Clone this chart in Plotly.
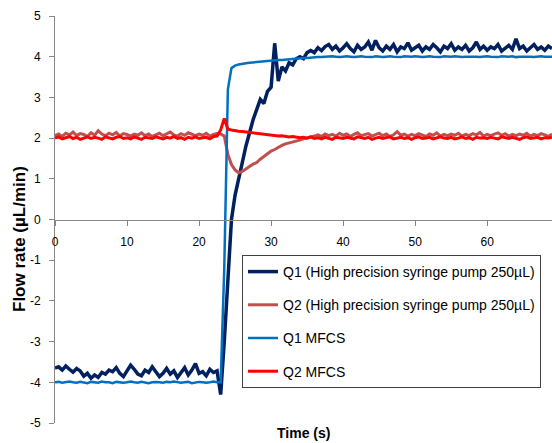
import plotly.graph_objects as go

# Time axis (s), 0.5 s sampling
time_s = [
    0.0, 0.5, 1.0, 1.5, 2.0, 2.5, 3.0, 3.5, 4.0, 4.5,
    5.0, 5.5, 6.0, 6.5, 7.0, 7.5, 8.0, 8.5, 9.0, 9.5,
    10.0, 10.5, 11.0, 11.5, 12.0, 12.5, 13.0, 13.5, 14.0, 14.5,
    15.0, 15.5, 16.0, 16.5, 17.0, 17.5, 18.0, 18.5, 19.0, 19.5,
    20.0, 20.5, 21.0, 21.5, 22.0, 22.5, 23.0, 23.5, 24.0, 24.5,
    25.0, 25.5, 26.0, 26.5, 27.0, 27.5, 28.0, 28.5, 29.0, 29.5,
    30.0, 30.5, 31.0, 31.5, 32.0, 32.5, 33.0, 33.5, 34.0, 34.5,
    35.0, 35.5, 36.0, 36.5, 37.0, 37.5, 38.0, 38.5, 39.0, 39.5,
    40.0, 40.5, 41.0, 41.5, 42.0, 42.5, 43.0, 43.5, 44.0, 44.5,
    45.0, 45.5, 46.0, 46.5, 47.0, 47.5, 48.0, 48.5, 49.0, 49.5,
    50.0, 50.5, 51.0, 51.5, 52.0, 52.5, 53.0, 53.5, 54.0, 54.5,
    55.0, 55.5, 56.0, 56.5, 57.0, 57.5, 58.0, 58.5, 59.0, 59.5,
    60.0, 60.5, 61.0, 61.5, 62.0, 62.5, 63.0, 63.5, 64.0, 64.5,
    65.0, 65.5, 66.0, 66.5, 67.0, 67.5, 68.0, 68.5, 69.0,
]

q1_pump = [
    -3.65, -3.62, -3.70, -3.60, -3.68, -3.75, -3.66, -3.72, -3.85, -3.78,
    -3.90, -3.82, -3.88, -3.76, -3.80, -3.70, -3.74, -3.64, -3.78, -3.86,
    -3.72, -3.58, -3.68, -3.80, -3.84, -3.70, -3.76, -3.62, -3.74, -3.86,
    -3.78, -3.66, -3.80, -3.72, -3.88, -3.76, -3.64, -3.82, -3.70, -3.54,
    -3.78, -3.74, -3.84, -3.68, -3.76, -3.72, -4.30, -3.00, -1.50, 0.00,
    0.60, 1.05, 1.40, 1.80, 2.15, 2.45, 2.70, 2.95, 2.85, 3.15,
    3.25, 4.33, 3.40, 3.75, 3.65, 3.85, 3.80, 3.95, 4.00, 3.95,
    4.10, 4.15, 4.10, 4.22, 4.15, 4.25, 4.30, 4.18, 4.26, 4.14,
    4.22, 4.32, 4.20, 4.12, 4.28, 4.18, 4.24, 4.36, 4.16, 4.40,
    4.22, 4.14, 4.26, 4.18, 4.30, 4.12, 4.24, 4.20, 4.34, 4.16,
    4.22, 4.28, 4.14, 4.24, 4.18, 4.30, 4.22, 4.12, 4.26, 4.20,
    4.32, 4.16, 4.24, 4.18, 4.28, 4.14, 4.22, 4.36, 4.18, 4.26,
    4.16, 4.24, 4.20, 4.30, 4.14, 4.22, 4.28, 4.18, 4.44, 4.20,
    4.26, 4.14, 4.22, 4.30, 4.18, 4.24, 4.16, 4.26, 4.20,
]

q2_pump = [
    2.06, 2.10, 2.04, 2.12, 2.08, 2.15, 2.06, 2.11, 2.09, 2.04,
    2.13, 2.07, 2.18, 2.10, 2.06, 2.12, 2.08, 2.14, 2.05, 2.11,
    2.09, 2.05, 2.10, 2.07, 2.13, 2.06, 2.10, 2.04, 2.08, 2.12,
    2.06, 2.10, 2.15, 2.08, 2.05, 2.11, 2.07, 2.13, 2.09, 2.06,
    2.10, 2.07, 2.12, 2.05, 2.09, 2.11, 2.10, 2.05, 1.60, 1.35,
    1.22, 1.15, 1.18, 1.25, 1.30, 1.36, 1.40, 1.48, 1.55, 1.62,
    1.68, 1.72, 1.78, 1.82, 1.86, 1.88, 1.90, 1.93, 1.95, 1.98,
    2.00, 2.03, 2.05, 2.08, 2.04, 2.10, 2.06, 2.09, 2.05, 2.12,
    2.07, 2.10, 2.04, 2.09, 2.13, 2.06, 2.08, 2.11, 2.05, 2.09,
    2.12, 2.06, 2.10, 2.04, 2.08, 2.16, 2.07, 2.10, 2.05, 2.09,
    2.06, 2.11, 2.08, 2.04, 2.10, 2.07, 2.13, 2.05, 2.09, 2.06,
    2.10, 2.07, 2.12, 2.05, 2.09, 2.06, 2.11, 2.08, 2.14, 2.05,
    2.09, 2.06, 2.10, 2.13, 2.07, 2.11, 2.05, 2.09, 2.06, 2.10,
    2.07, 2.12, 2.05, 2.09, 2.06, 2.11, 2.08, 2.04, 2.10,
]

q1_mfcs = [
    -4.00, -3.99, -4.01, -4.00, -3.98, -4.00, -4.01, -3.99, -4.00, -4.02,
    -3.99, -4.00, -4.01, -3.98, -4.00, -4.00, -4.02, -3.99, -4.00, -4.01,
    -4.00, -3.98, -4.00, -4.01, -3.99, -4.00, -4.02, -4.00, -3.99, -4.00,
    -4.01, -3.99, -4.00, -3.98, -4.00, -4.01, -4.00, -3.99, -4.02, -4.00,
    -3.99, -4.00, -4.01, -4.00, -3.98, -4.00, -4.00, -1.20, 3.20, 3.72,
    3.78, 3.81, 3.83, 3.84, 3.85, 3.86, 3.87, 3.88, 3.88, 3.89,
    3.90, 3.91, 3.92, 3.92, 3.93, 3.94, 3.95, 3.95, 3.96, 3.97,
    3.97, 3.98, 3.98, 3.99, 3.99, 4.00, 4.00, 4.01, 4.00, 3.99,
    4.00, 4.01, 4.00, 3.99, 4.00, 4.01, 4.00, 4.00, 3.99, 4.01,
    4.00, 3.99, 4.00, 4.01, 4.00, 4.00, 3.99, 4.01, 4.00, 4.00,
    4.01, 4.00, 3.99, 4.00, 4.01, 4.00, 4.00, 3.99, 4.01, 4.00,
    4.00, 4.01, 4.00, 3.99, 4.00, 4.00, 4.01, 4.00, 3.99, 4.00,
    4.01, 4.00, 4.00, 3.99, 4.01, 4.00, 4.00, 4.01, 3.99, 4.00,
    4.00, 4.01, 4.00, 3.99, 4.00, 4.01, 4.00, 4.00, 4.00,
]

q2_mfcs = [
    2.00, 2.03, 1.98, 2.01, 2.04, 1.99, 2.02, 1.97, 2.01, 2.03,
    1.99, 2.02, 2.00, 1.97, 2.03, 2.01, 1.98, 2.02, 2.04, 1.99,
    2.01, 1.98, 2.03, 2.00, 1.97, 2.02, 2.01, 1.99, 2.03, 2.00,
    1.98, 2.02, 2.00, 2.04, 1.99, 2.01, 1.97, 2.02, 2.00, 2.03,
    1.99, 2.01, 2.02, 1.98, 2.04, 2.05, 2.20, 2.48, 2.22, 2.20,
    2.18, 2.17, 2.16, 2.15, 2.14, 2.12, 2.12, 2.10, 2.09, 2.08,
    2.07, 2.07, 2.05, 2.06, 2.04, 2.03, 2.04, 2.02, 2.01, 2.02,
    2.00, 2.03, 1.99, 2.01, 1.98, 2.02, 2.00, 1.97, 2.02, 2.01,
    1.99, 2.02, 2.00, 1.98, 2.03, 2.01, 1.99, 2.02, 1.97, 2.00,
    2.02, 1.99, 2.01, 2.03, 1.98, 2.00, 2.02, 1.99, 2.01, 1.97,
    2.01, 2.03, 1.99, 2.00, 2.02, 1.98, 2.01, 2.03, 2.00, 1.99,
    2.02, 1.98, 2.00, 2.03, 1.99, 2.01, 1.97, 2.02, 2.00, 2.01,
    1.99, 2.02, 2.00, 1.98, 2.03, 2.01, 1.99, 2.02, 2.00, 1.97,
    2.01, 2.03, 1.99, 2.00, 2.02, 1.98, 2.01, 2.00, 2.02,
]

series_names = [
    "Q1 (High precision syringe pump 250µL)",
    "Q2 (High precision syringe pump 250µL)",
    "Q1 MFCS",
    "Q2 MFCS",
]
series_values = [q1_pump, q2_pump, q1_mfcs, q2_mfcs]
series_colors = ["#002060", "#C0504D", "#0070C0", "#FF0000"]
series_widths = [3.5, 3, 2.5, 3]

y_ticks = [-5, -4, -3, -2, -1, 0, 1, 2, 3, 4, 5]
x_ticks = [0, 10, 20, 30, 40, 50, 60]

FONT = "Liberation Sans"

fig = go.Figure()
for i, (name, vals, col, w) in enumerate(zip(series_names, series_values, series_colors, series_widths)):
    fig.add_trace(go.Scatter(
        x=time_s, y=vals, mode="lines", name=name,
        line=dict(color=col, width=w),
        legendgroup=f"g{i}",
    ))

L, R, T, B = 55, 0, 16, 20
W, H = 552, 443
pw, ph = W - L - R, H - T - B

fig.update_layout(
    width=W, height=H,
    margin=dict(l=L, r=R, t=T, b=B, pad=0),
    paper_bgcolor="white", plot_bgcolor="white",
    font=dict(family=FONT, size=12, color="#000000"),
    showlegend=True,
    legend=dict(
        x=(242 - L) / pw, y=1 - (255 - T) / ph,
        xanchor="left", yanchor="top",
        bordercolor="#404040", borderwidth=1,
        bgcolor="white",
        font=dict(family=FONT, size=14, color="#000000"),
        traceorder="grouped", tracegroupgap=12,
        itemwidth=30,
    ),
    xaxis=dict(
        range=[0, 69], tickvals=x_ticks, ticktext=[str(v) for v in x_ticks],
        showgrid=False, zeroline=False,
        showline=True, linecolor="#868686", linewidth=1,
        ticks="outside", ticklen=5, tickcolor="#868686",
        anchor="free", position=0.5,
        ticklabelstandoff=6,
        tickfont=dict(family=FONT, size=12, color="#000000"),
    ),
    yaxis=dict(
        range=[-5, 5], tickvals=y_ticks, ticktext=[str(v) for v in y_ticks],
        showgrid=False, zeroline=False,
        showline=True, linecolor="#868686", linewidth=1,
        ticks="outside", ticklen=5, tickcolor="#868686",
        ticklabelstandoff=6,
        tickfont=dict(family=FONT, size=12, color="#000000"),
    ),
    annotations=[
        dict(text="<b>Flow rate (µL/min)</b>", textangle=-90,
             xref="paper", yref="paper",
             x=(19 - L) / pw, y=1 - (239 - T) / ph,
             xanchor="center", yanchor="middle", showarrow=False,
             font=dict(family=FONT, size=17, color="#000000")),
        dict(text="<b>Time (s)</b>",
             xref="paper", yref="paper",
             x=(303 - L) / pw, y=-(433 - (H - B)) / ph,
             xanchor="center", yanchor="middle", showarrow=False,
             font=dict(family=FONT, size=14, color="#000000")),
    ],
)

fig.write_html(
    "out.html",
    config={"displayModeBar": False},
    post_script="document.body.style.margin='0';document.body.style.padding='0';",
)
